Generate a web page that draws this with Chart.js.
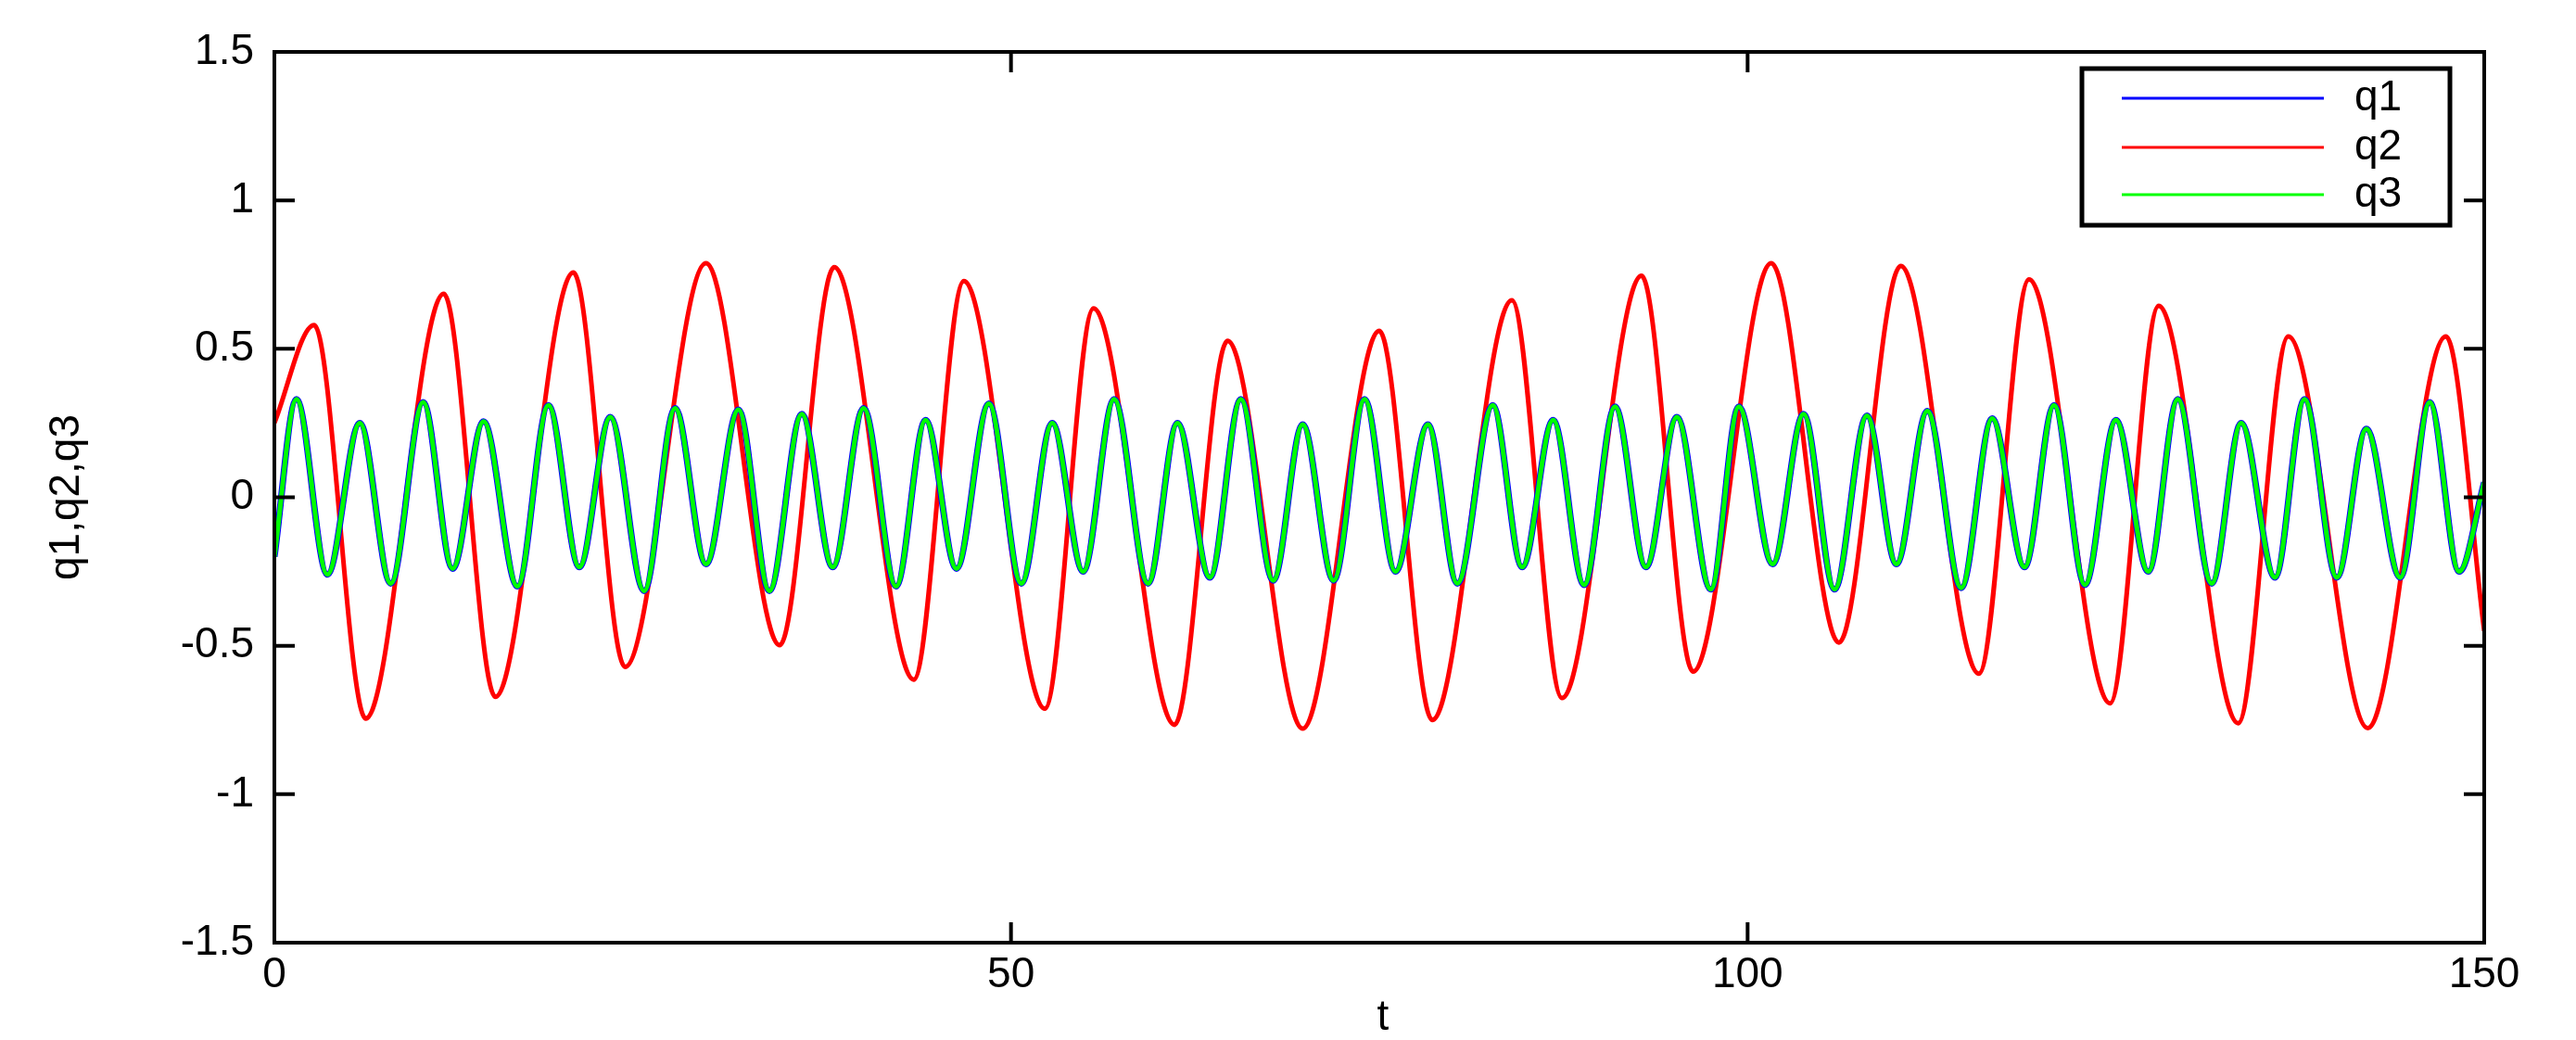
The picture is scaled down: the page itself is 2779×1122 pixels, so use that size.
<!DOCTYPE html>
<html>
<head>
<meta charset="utf-8">
<script src="https://cdn.jsdelivr.net/npm/chart.js@4/dist/chart.umd.min.js"></script>
<style>
  html, body { margin: 0; padding: 0; background: #fff; }
  #wrap { width: 2779px; height: 1122px; }
</style>
</head>
<body>
<div id="wrap"><canvas id="myChart" width="2779" height="1122"></canvas></div>
<script>
var q2Times = [0, 2.7, 6.2, 11.5, 15, 20.3, 23.8, 29.3, 34.3, 38, 43.4, 46.8, 52.3, 55.6, 61.1, 64.7, 69.8, 75, 78.6, 84, 87.4, 92.8, 96.3, 101.6, 106.2, 110.4, 115.7, 119.1, 124.6, 127.9, 133.3, 136.7, 142.1, 147.4, 150];
var q2Values = [0.25, 0.58, -0.745, 0.685, -0.672, 0.757, -0.571, 0.788, -0.498, 0.775, -0.614, 0.728, -0.712, 0.636, -0.766, 0.527, -0.779, 0.56, -0.75, 0.663, -0.676, 0.746, -0.587, 0.788, -0.489, 0.779, -0.594, 0.734, -0.694, 0.645, -0.761, 0.542, -0.777, 0.542, -0.45];

// q3 (q1 follows it almost exactly)
var q3Times = [0, 1.5, 3.6, 5.8, 7.9, 10.1, 12.1, 14.2, 16.5, 18.6, 20.7, 22.8, 25.1, 27.2, 29.3, 31.5, 33.6, 35.8, 37.9, 40, 42.2, 44.2, 46.3, 48.5, 50.7, 52.8, 54.9, 57, 59.3, 61.3, 63.5, 65.6, 67.8, 69.8, 71.9, 74, 76.1, 78.3, 80.3, 82.7, 84.7, 86.8, 88.9, 91, 93.1, 95.2, 97.5, 99.4, 101.7, 103.8, 105.9, 108.1, 110.1, 112.2, 114.5, 116.6, 118.8, 120.8, 122.9, 125, 127.2, 129.2, 131.5, 133.5, 135.8, 137.8, 140, 142, 144.3, 146.3, 148.3, 150];
var q3Values = [-0.2, 0.33, -0.26, 0.25, -0.29, 0.32, -0.24, 0.255, -0.30, 0.31, -0.235, 0.27, -0.315, 0.30, -0.225, 0.295, -0.315, 0.28, -0.235, 0.30, -0.30, 0.26, -0.24, 0.315, -0.29, 0.25, -0.25, 0.33, -0.29, 0.25, -0.27, 0.33, -0.28, 0.245, -0.28, 0.33, -0.25, 0.245, -0.29, 0.31, -0.235, 0.26, -0.295, 0.305, -0.235, 0.27, -0.31, 0.305, -0.225, 0.28, -0.31, 0.275, -0.225, 0.29, -0.305, 0.265, -0.235, 0.31, -0.295, 0.26, -0.25, 0.33, -0.29, 0.25, -0.27, 0.33, -0.27, 0.23, -0.27, 0.32, -0.25, 0.05];
var q1Times = q3Times.slice();
var q1Values = q3Values.slice();

var xTicks = [0, 50, 100, 150];
var yTicks = [-1.5, -1, -0.5, 0, 0.5, 1, 1.5];
var seriesNames = ['q1', 'q2', 'q3'];
var seriesColors = ['#0000ff', '#ff0000', '#00ff00'];

function toPoints(ts, vs) {
    var pts = [];
    for (var i = 0; i < ts.length; i++) pts.push({x: ts[i], y: vs[i]});
    return pts;
}

var FONT = '46px "Liberation Sans", Arial, sans-serif';

// frame, inward ticks, labels and legend in matlab style
var matlabAxes = {
    id: 'matlabAxes',
    afterDraw: function(chart) {
        var ctx = chart.ctx, a = chart.chartArea;
        var xs = chart.scales.x, ys = chart.scales.y;
        ctx.save();
        ctx.strokeStyle = '#000';
        ctx.lineWidth = 4;
        ctx.strokeRect(a.left, a.top, a.right - a.left, a.bottom - a.top);
        ctx.fillStyle = '#000';
        ctx.font = FONT;
        ctx.lineWidth = 4;
        ctx.textAlign = 'center';
        ctx.textBaseline = 'top';
        xTicks.forEach(function(t) {
            var px = xs.getPixelForValue(t);
            ctx.beginPath();
            ctx.moveTo(px, a.bottom); ctx.lineTo(px, a.bottom - 22);
            ctx.moveTo(px, a.top); ctx.lineTo(px, a.top + 22);
            ctx.stroke();
            ctx.fillText(String(t), px, a.bottom + 12);
        });
        ctx.textAlign = 'right';
        ctx.textBaseline = 'middle';
        yTicks.forEach(function(v) {
            var py = ys.getPixelForValue(v);
            ctx.beginPath();
            ctx.moveTo(a.left, py); ctx.lineTo(a.left + 22, py);
            ctx.moveTo(a.right, py); ctx.lineTo(a.right - 22, py);
            ctx.stroke();
            ctx.fillText(String(v), a.left - 22, py);
        });
        // axis titles
        ctx.textAlign = 'center';
        ctx.textBaseline = 'middle';
        ctx.fillText('t', (a.left + a.right) / 2 + 4, 1098);
        ctx.save();
        ctx.translate(72, (a.top + a.bottom) / 2);
        ctx.rotate(-Math.PI / 2);
        ctx.fillText('q1,q2,q3', 0, 0);
        ctx.restore();
        // legend box
        var lx = 2246, ly = 74, lw = 397, lh = 169;
        ctx.fillStyle = '#fff';
        ctx.fillRect(lx, ly, lw, lh);
        ctx.strokeStyle = '#000';
        ctx.lineWidth = 5;
        ctx.strokeRect(lx, ly, lw, lh);
        var rows = [106, 159, 210];
        ctx.textAlign = 'left';
        for (var i = 0; i < seriesNames.length; i++) {
            ctx.strokeStyle = seriesColors[i];
            ctx.lineWidth = 3;
            ctx.beginPath();
            ctx.moveTo(2289, rows[i]); ctx.lineTo(2507, rows[i]);
            ctx.stroke();
            ctx.fillStyle = '#000';
            ctx.fillText(seriesNames[i], 2540, rows[i]);
        }
        ctx.restore();
    }
};

var ctx = document.getElementById('myChart').getContext('2d');
var myChart = new Chart(ctx, {
    type: 'line',
    data: {
        datasets: [
            {label: 'q2', data: toPoints(q2Times, q2Values), borderColor: seriesColors[1], order: 3},
            {label: 'q1', data: toPoints(q1Times, q1Values), borderColor: seriesColors[0], order: 2, borderWidth: 7},
            {label: 'q3', data: toPoints(q3Times, q3Values), borderColor: seriesColors[2], order: 1}
        ]
    },
    options: {
        responsive: false,
        animation: false,
        layout: {padding: {left: 296, right: 99, top: 56, bottom: 105}},
        elements: {
            point: {radius: 0},
            line: {borderWidth: 5, cubicInterpolationMode: 'monotone', fill: false}
        },
        scales: {
            x: {type: 'linear', min: 0, max: 150, display: false},
            y: {type: 'linear', min: -1.5, max: 1.5, display: false}
        },
        plugins: {legend: {display: false}, tooltip: {enabled: false}}
    },
    plugins: [matlabAxes]
});
</script>
</body>
</html>
